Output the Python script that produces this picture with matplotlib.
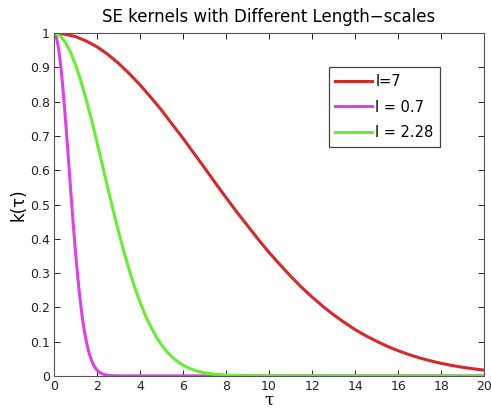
import matplotlib
matplotlib.use("Agg")
import matplotlib.pyplot as plt

# l = 7
tau_red = [0, 0.5, 1, 1.5, 2, 2.5, 3, 3.5, 4, 4.5, 5, 5.5, 6, 6.5, 7, 7.5, 8, 8.5, 9, 9.5,
           10, 10.5, 11, 11.5, 12, 12.5, 13, 13.5, 14, 14.5, 15, 15.5, 16, 16.5, 17, 17.5,
           18, 18.5, 19, 19.5, 20]
k_red = [1.0, 0.997, 0.990, 0.977, 0.960, 0.938, 0.912, 0.882, 0.849, 0.813, 0.775,
         0.734, 0.693, 0.650, 0.607, 0.563, 0.520, 0.478, 0.438, 0.398, 0.360, 0.325,
         0.291, 0.259, 0.230, 0.203, 0.178, 0.156, 0.135, 0.117, 0.101, 0.0862, 0.0734,
         0.0622, 0.0524, 0.0439, 0.0367, 0.0304, 0.0251, 0.0206, 0.0169]

# l = 0.7
tau_mag = [0, 0.1, 0.2, 0.3, 0.4, 0.5, 0.6, 0.7, 0.8, 0.9, 1.0, 1.1, 1.2, 1.3, 1.4, 1.5,
           1.6, 1.7, 1.8, 1.9, 2.0, 2.1, 2.2, 2.3, 2.4, 2.6, 2.8, 3.0, 20]
k_mag = [1.0, 0.990, 0.960, 0.912, 0.849, 0.775, 0.693, 0.607, 0.520, 0.438, 0.360,
         0.291, 0.230, 0.178, 0.135, 0.101, 0.0734, 0.0524, 0.0367, 0.0251, 0.0169,
         0.0111, 0.0072, 0.0045, 0.0028, 0.0010, 0.0003, 0.0001, 0.0]

# l = 2.28
tau_grn = [0, 0.25, 0.5, 0.75, 1, 1.25, 1.5, 1.75, 2, 2.25, 2.5, 2.75, 3, 3.25, 3.5, 3.75,
           4, 4.25, 4.5, 4.75, 5, 5.25, 5.5, 5.75, 6, 6.25, 6.5, 6.75, 7, 7.5, 8, 8.5, 9, 20]
k_grn = [1.0, 0.994, 0.976, 0.947, 0.908, 0.860, 0.805, 0.745, 0.681, 0.615, 0.548,
         0.483, 0.421, 0.362, 0.308, 0.259, 0.215, 0.176, 0.143, 0.114, 0.0903, 0.0706,
         0.0545, 0.0416, 0.0314, 0.0233, 0.0172, 0.0125, 0.0090, 0.0045, 0.0021,
         0.00096, 0.0004, 0.0]

labels = ["l=7", "l = 0.7", "l = 2.28"]
colors = ["#d8282a", "#e040e8", "#66ee33"]

fig = plt.figure(figsize=(4.91, 4.09), dpi=100)
ax = fig.add_axes([0.110, 0.081, 0.876, 0.838])

ax.plot(tau_red, k_red, color=colors[0], lw=2.2, label=labels[0])
ax.plot(tau_mag, k_mag, color=colors[1], lw=2.2, label=labels[1])
ax.plot(tau_grn, k_grn, color=colors[2], lw=2.2, label=labels[2])

ax.set_xlim(0, 20)
ax.set_ylim(0, 1)
ax.set_xticks(range(0, 21, 2))
ax.set_yticks([i / 10 for i in range(11)])
ax.set_yticklabels(["0", "0.1", "0.2", "0.3", "0.4", "0.5", "0.6", "0.7", "0.8", "0.9", "1"])
ax.tick_params(direction="in", top=True, right=True, length=4, width=0.7,
               labelsize=9, colors="#222222", pad=3)
for s in ax.spines.values():
    s.set_linewidth(0.8)
    s.set_color("#555555")

ax.set_title("SE kernels with Different Length\u2212scales", fontsize=12, pad=8)
ax.set_ylabel("k(\u03c4)", fontsize=12, labelpad=2)
ax.set_xlabel("\u03c4", fontsize=12, labelpad=-1, family="DejaVu Serif")

leg = ax.legend(loc="upper right", bbox_to_anchor=(0.898, 0.901), borderaxespad=0,
                fontsize=10.5, fancybox=False, framealpha=1, edgecolor="#444444",
                handlelength=2.5, borderpad=0.45, labelspacing=0.75, handletextpad=0.25)
leg.get_frame().set_linewidth(0.9)

fig.savefig("out.png", dpi=100)
